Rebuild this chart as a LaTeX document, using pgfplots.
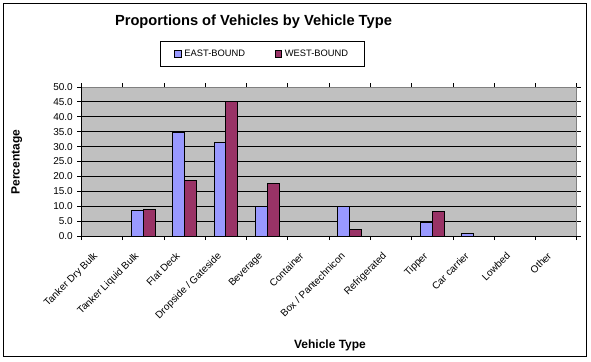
\documentclass[border=0pt]{standalone}
\usepackage{pgfplots}
\pgfplotsset{compat=1.18}
\usepackage{fontspec}
\setmainfont{Liberation Sans}
\definecolor{east}{HTML}{9999FF}
\definecolor{west}{HTML}{993366}
\definecolor{plotbg}{HTML}{C0C0C0}
\begin{document}
\begin{tikzpicture}
\useasboundingbox (0,0) rectangle (443.25pt,270.75pt);
\fill[white] (0,0) rectangle (443.25pt,270.75pt);
\draw[black, line width=0.75pt] (2.25pt,3.75pt) rectangle (439.5pt,267.75pt);
\begin{axis}[
  at={(61.1pt,93.75pt)}, anchor=south west,
  scale only axis, width=371.6pt, height=111.75pt,
  ybar=0pt, bar width=0.29,
  xmin=-0.5, xmax=11.5, ymin=0, ymax=50,
  ytick={0,5,...,50},
  yticklabel style={font=\fontsize{7.5}{8}\selectfont, /pgf/number format/.cd, fixed, fixed zerofill, precision=1, assume math mode=true},
  ytick style={draw=black, line width=0.75pt},
  tick align=outside, major tick length=3pt,
  ymajorgrids, grid style={black, line width=0.75pt},
  axis background/.style={fill=plotbg},
  axis line style={draw=gray, line width=0.75pt},
  xtick={0,...,11},
  xticklabels={Tanker Dry Bulk, Tanker Liquid Bulk, Flat Deck, Dropside / Gateside, Beverage, Container, Box / Pantechnicon, Refrigerated, Tipper, Car carrier, Lowbed, Other},
  xticklabel style={xshift=-7pt, yshift=-7pt, rotate=45, anchor=north east, font=\fontsize{7.5}{8}\selectfont, inner sep=1pt},
  xtick style={draw=none},
  extra x ticks={-0.5,0.5,...,11.5},
  extra x tick labels={},
  extra x tick style={grid=none, xtick style={draw=black, line width=0.75pt}},
  legend style={at={(axis description cs:0.3653,1.220)}, anchor=center, legend columns=2, draw=black, line width=0.75pt, fill=white, font=\fontsize{7}{8}\selectfont, inner xsep=10pt, inner ysep=4pt, /tikz/every even column/.append style={column sep=20pt}},
  legend image code/.code={\draw[#1] (0pt,-2.5pt) rectangle (5pt,2.5pt);},
  clip=false,
]
\addplot[fill=east, draw=black, line width=0.75pt] coordinates {(0,0) (1,8.7) (2,34.7) (3,31.5) (4,9.8) (5,0) (6,9.9) (7,0) (8,4.4) (9,1.0) (10,0) (11,0)};
\addplot[fill=west, draw=black, line width=0.75pt] coordinates {(0,0) (1,9.0) (2,18.5) (3,45.0) (4,17.5) (5,0) (6,2.2) (7,0) (8,8.1) (9,0) (10,0) (11,0)};
\legend{EAST-BOUND, WEST-BOUND}
\draw[black, line width=0.75pt] (rel axis cs:0,0) -- (rel axis cs:0,1);
\draw[black, line width=0.75pt] (rel axis cs:0,0) -- (rel axis cs:1,0);
\end{axis}
\node[font=\bfseries\fontsize{11}{13}\selectfont] at (190.1pt,254.25pt) {Proportions of Vehicles by Vehicle Type};
\node[rotate=90, font=\bfseries\fontsize{9}{11}\selectfont] at (12.5pt,149.25pt) {Percentage};
\node[font=\bfseries\fontsize{9}{11}\selectfont] at (247.5pt,11.6pt) {Vehicle Type};
\end{tikzpicture}
\end{document}
